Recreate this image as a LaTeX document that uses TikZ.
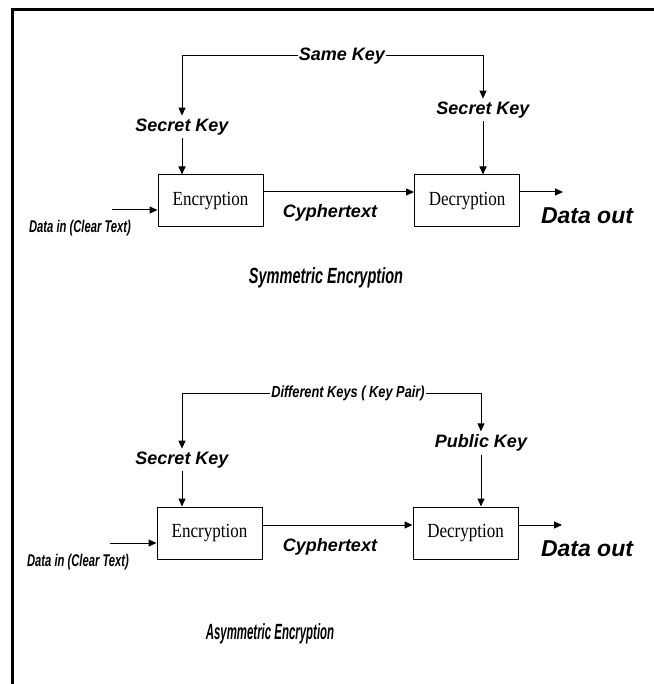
\documentclass[tikz,border=0pt]{standalone}
\usepackage{fontspec}
\usepackage{graphicx}
\newfontfamily\arialfont{Liberation Sans}
\newfontfamily\timesfont{Liberation Serif}
\newcommand{\squeezed}[2]{\scalebox{#1}[1]{#2}}
\usetikzlibrary{arrows.meta}

\begin{document}
\begin{tikzpicture}[x=1pt,y=-1pt,
	lbl/.style={inner sep=3pt,font=\arialfont\bfseries\itshape\fontsize{18}{18}\selectfont},
	tag/.style={inner sep=1pt,font=\arialfont\bfseries\itshape\fontsize{18}{18}\selectfont},
	box/.style={draw,line width=1pt,minimum width=105pt,minimum height=52pt,font=\timesfont\fontsize{20}{20}\selectfont},
	arr/.style={line width=1pt,-{Triangle[length=8pt,width=7pt]}}]
\useasboundingbox (0,0) rectangle (653,684);
\draw[line width=3pt] (12.5,690) |- (660,10);

% symmetric
\node[box] (enc1) at (210.5,201) {\squeezed{0.85}{Encryption}};
\node[box] (dec1) at (467,201) {\squeezed{0.85}{Decryption}};
\node[tag] (same) at (342,56) {Same Key};
\node[lbl] (sk1) at (182,127) {Secret Key};
\node[lbl] (sk2) at (483,110) {Secret Key};
\node[lbl] (ct1) at (330,213) {Cyphertext};
\node[lbl,font=\arialfont\bfseries\itshape\fontsize{23}{23}\selectfont] (out1) at (587,216) {Data out};
\node[lbl,font=\arialfont\bfseries\itshape\fontsize{17}{17}\selectfont] (in1) at (80,228) {\squeezed{0.66}{Data in (Clear Text)}};
\node[lbl,font=\arialfont\bfseries\itshape\fontsize{22}{22}\selectfont] (sym) at (326,278) {\squeezed{0.66}{Symmetric Encryption}};
\coordinate (src1) at (112,210);
\coordinate (dst1) at (563,192);

\draw[arr] (same.west) -| (sk1);
\draw[arr] (same.east) -| (sk2);
\draw[arr] (sk1.south) -- (sk1.south |- enc1.north);
\draw[arr] (sk2.south) -- (sk2.south |- dec1.north);
\draw[arr] ([yshift=9pt]enc1.east) -- ([yshift=9pt]dec1.west);
\draw[arr] (src1) -- (src1 -| enc1.west);
\draw[arr] ([yshift=9pt]dec1.east) -- (dst1);

% asymmetric
\node[box] (enc2) at (209.5,533) {\squeezed{0.85}{Encryption}};
\node[box] (dec2) at (465.5,533) {\squeezed{0.85}{Decryption}};
\node[tag,font=\arialfont\bfseries\itshape\fontsize{16}{16}\selectfont] (diff) at (348,393) {\squeezed{0.8}{Different Keys ( Key Pair)}};
\node[lbl] (sk3) at (182,460) {Secret Key};
\node[lbl] (pk) at (481,443) {Public Key};
\node[lbl] (ct2) at (330,547) {Cyphertext};
\node[lbl,font=\arialfont\bfseries\itshape\fontsize{23}{23}\selectfont] (out2) at (587,549) {Data out};
\node[lbl,font=\arialfont\bfseries\itshape\fontsize{17}{17}\selectfont] (in2) at (78,562) {\squeezed{0.66}{Data in (Clear Text)}};
\node[lbl,font=\arialfont\bfseries\itshape\fontsize{22}{22}\selectfont] (asym) at (270,634) {\squeezed{0.52}{Asymmetric Encryption}};
\coordinate (src2) at (110,543);
\coordinate (dst2) at (562,525);

\draw[arr] (diff.west) -| (sk3);
\draw[arr] (diff.east) -| (pk);
\draw[arr] (sk3.south) -- (sk3.south |- enc2.north);
\draw[arr] (pk.south) -- (pk.south |- dec2.north);
\draw[arr] ([yshift=8pt]enc2.east) -- ([yshift=8pt]dec2.west);
\draw[arr] (src2) -- (src2 -| enc2.west);
\draw[arr] ([yshift=8pt]dec2.east) -- (dst2);
\end{tikzpicture}
\end{document}
